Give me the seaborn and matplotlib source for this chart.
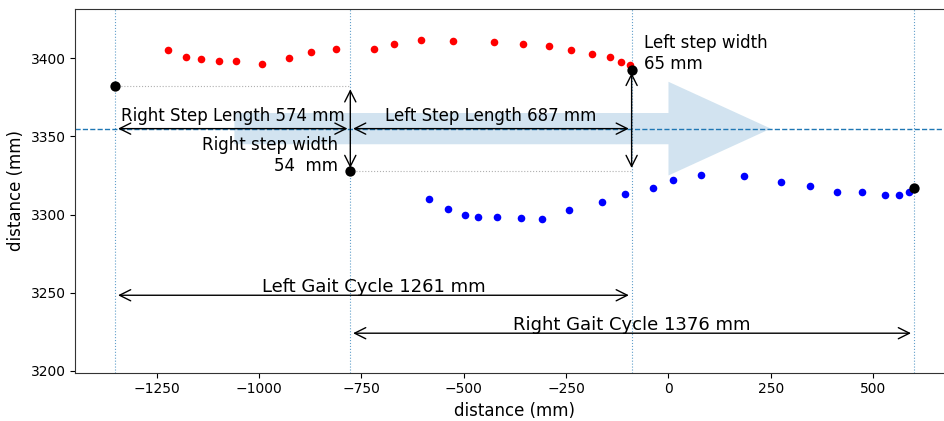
import matplotlib
matplotlib.use("Agg")
import matplotlib.pyplot as plt
import seaborn as sns
import pandas as pd

# ---- data ----
left_x = [-1222, -1178, -1142, -1097, -1057, -993, -926, -873, -811, -718, -671,
          -605, -526, -427, -356, -292, -237, -187, -144, -117, -93]
left_y = [3405.5, 3401.0, 3399.5, 3398.5, 3398.2, 3396.5, 3400.0, 3404.0, 3406.0,
          3406.0, 3409.0, 3411.5, 3411.0, 3410.5, 3409.5, 3408.0, 3405.5, 3403.0,
          3401.0, 3397.5, 3395.5]
right_x = [-586, -538, -497, -465, -418, -360, -310, -242, -162, -107, -38, 10, 80,
           185, 276, 345, 411, 473, 528, 564, 588]
right_y = [3309.7, 3303.7, 3300.0, 3298.4, 3298.4, 3297.5, 3297.1, 3302.6, 3307.9,
           3313.1, 3317.1, 3322.4, 3325.5, 3324.6, 3321.1, 3318.0, 3314.4, 3314.2,
           3312.6, 3312.6, 3314.7]
step_x = [-1351, -777, -90, 599]
step_y = [3382, 3328, 3392.5, 3317]
center_y = 3355
gait_y = [3248.3, 3224.0]
step_lengths = [574, 687]
step_widths = [54, 65]
gait_cycles = [1261, 1376]

sns.set_style("ticks")
plt.rcParams["font.family"] = ["DejaVu Sans"]
plt.rcParams.update({"text.color": "black", "axes.labelcolor": "black",
                     "xtick.color": "black", "ytick.color": "black",
                     "axes.edgecolor": "#333333"})

fig = plt.figure(figsize=(9.45, 4.21), dpi=100)
ax = fig.add_axes([0.0797, 0.1147, 0.9295, 0.8639])

# direction arrow
ax.arrow(-1060, center_y, 1060, 0, width=20, head_width=60, head_length=250,
         color="tab:blue", alpha=0.2, linewidth=0, zorder=1)

df_l = pd.DataFrame({"x": left_x, "y": left_y})
df_r = pd.DataFrame({"x": right_x, "y": right_y})
df_s = pd.DataFrame({"x": step_x, "y": step_y})
sns.scatterplot(data=df_l, x="x", y="y", color="red", s=30, linewidth=0, ax=ax, zorder=3)
sns.scatterplot(data=df_r, x="x", y="y", color="blue", s=30, linewidth=0, ax=ax, zorder=3)
sns.scatterplot(data=df_s, x="x", y="y", color="black", s=55, linewidth=0, ax=ax, zorder=4)

for sx in step_x:
    ax.axvline(sx, ls=":", lw=0.8, color="tab:blue", alpha=0.7, zorder=2)
ax.axhline(center_y, ls="--", lw=1.0, color="tab:blue", zorder=2)

ax.plot([step_x[0], step_x[1]], [step_y[0], step_y[0]], ls=":", lw=0.8, color="#b0b0b0", zorder=2)
ax.plot([step_x[1], step_x[2]], [step_y[1], step_y[1]], ls=":", lw=0.8, color="#b0b0b0", zorder=2)

ap = dict(arrowstyle="<->", mutation_scale=20, lw=1.0, color="black")

def arr(p0, p1):
    ax.annotate("", xy=p1, xytext=p0, arrowprops=ap, zorder=5)

# step lengths
arr((step_x[0], center_y), (step_x[1], center_y))
arr((step_x[1], center_y), (step_x[2], center_y))
ax.text((step_x[0] + step_x[1]) / 2, 3360, f"Right Step Length {step_lengths[0]} mm",
        ha="center", va="baseline", fontsize=12, zorder=6)
ax.text((step_x[1] + step_x[2]) / 2, 3360, f"Left Step Length {step_lengths[1]} mm",
        ha="center", va="baseline", fontsize=12, zorder=6)

# step widths
arr((step_x[1], step_y[0]), (step_x[1], step_y[1]))
arr((step_x[2], step_y[2]), (step_x[2], step_y[1]))
ax.text(-807, 3328, f"Right step width\n{step_widths[0]}  mm", ha="right",
        va="baseline", fontsize=12, zorder=6)
ax.text(-59, 3393, f"Left step width\n{step_widths[1]} mm", ha="left",
        va="baseline", fontsize=12, zorder=6)

# gait cycles
arr((step_x[0], gait_y[0]), (step_x[2], gait_y[0]))
arr((step_x[1], gait_y[1]), (step_x[3], gait_y[1]))
ax.text((step_x[0] + step_x[2]) / 2, gait_y[0] + 2.3, f"Left Gait Cycle {gait_cycles[0]} mm",
        ha="center", va="baseline", fontsize=13, zorder=6)
ax.text((step_x[1] + step_x[3]) / 2, gait_y[1] + 2.3, f"Right Gait Cycle {gait_cycles[1]} mm",
        ha="center", va="baseline", fontsize=13, zorder=6)

ax.set_xlim(-1448.5, 696.5)
ax.set_ylim(3198.7, 3431.6)
ax.set_xticks([-1250, -1000, -750, -500, -250, 0, 250, 500])
ax.set_yticks([3200, 3250, 3300, 3350, 3400])
ax.set_xlabel("distance (mm)", fontsize=12)
ax.set_ylabel("distance (mm)", fontsize=12)
ax.tick_params(labelsize=10)

fig.savefig("out.png", dpi=100)
